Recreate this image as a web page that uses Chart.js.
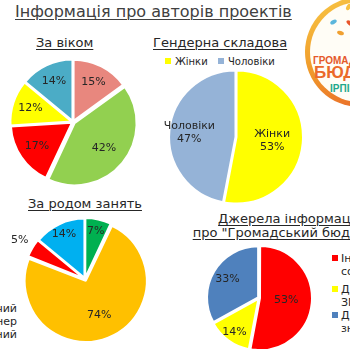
<!DOCTYPE html>
<html>
<head>
<meta charset="utf-8">
<script src="https://cdn.jsdelivr.net/npm/chart.js@4.4.0/dist/chart.umd.min.js"></script>
<style>
html, body { margin: 0; padding: 0; background: #fff; }
body { width: 350px; height: 350px; overflow: hidden; position: relative;
       font-family: "DejaVu Sans", Verdana, sans-serif; color: #262626; }
canvas { position: absolute; }
.t { position: absolute; white-space: nowrap; text-decoration: underline; text-underline-offset: 2px; text-decoration-thickness: 1px; }
.main { left: 15px; top: 2px; font-size: 16px; color: #404040; }
.sub { font-size: 13px; line-height: 14px; }
.lg { position: absolute; white-space: nowrap; font-size: 10px; line-height: 12px; }
.lg i { display: inline-block; width: 6px; height: 6px; margin-right: 4px; vertical-align: 1px; }
.side { position: absolute; font-size: 11px; line-height: 13px; white-space: nowrap; }
#logo .ring { position: absolute; left: 305px; top: -3px; width: 100px; height: 100px; border-radius: 50%;
  border: 5px solid transparent;
  background: linear-gradient(#fffdf6, #fffdf6) padding-box, linear-gradient(160deg, #f8c845, #f09a2a 50%, #e8602a) border-box; }
#logo .w { position: absolute; white-space: nowrap; font-family: "Liberation Sans", Arial, sans-serif; font-weight: bold; }
#logo .leaf { position: absolute; width: 7px; height: 4px; border-radius: 50%; }
</style>
</head>
<body>
<div class="t main">Інформація про авторів проектів</div>

<div class="t sub" style="left:36px; top:36px;">За віком</div>
<div class="t sub" style="left:153px; top:36px;">Гендерна складова</div>
<div class="t sub" style="left:28px; top:197px;">За родом занять</div>
<div class="sub" style="position:absolute; left:188px; top:212px; width:200px; text-align:center; text-decoration:underline; text-underline-offset:2px;">Джерела інформації<br>про "Громадський бюджет"</div>

<div id="genderLegend"></div>
<div id="jobLegend"></div>
<div id="sourceLegend"></div>

<div id="logo">
  <div class="ring"></div>
  <div class="leaf" style="left:330px; top:20px; background:#5bb6dc; transform:rotate(-30deg);"></div>
  <div class="leaf" style="left:337px; top:31px; background:#f0a030; transform:rotate(20deg);"></div>
  <div class="leaf" style="left:345px; top:5px; background:#f7c040; transform:rotate(-60deg);"></div>
  <div class="leaf" style="left:346px; top:21px; background:#e8552a; transform:rotate(40deg);"></div>
  <div class="w" style="left:313px; top:55px; font-size:10px; color:#e5592b;">ГРОМАДСЬКИЙ</div>
  <div class="w" style="left:314px; top:63px; font-size:17px; color:#eb6a2a;">БЮДЖЕТ</div>
  <div class="w" style="left:330px; top:83px; font-size:10px; color:#22a88a;">ІРПІНЬ</div>
</div>

<canvas id="ageChart"></canvas>
<canvas id="genderChart"></canvas>
<canvas id="jobChart"></canvas>
<canvas id="sourceChart"></canvas>

<script>
// дані
const ageLabels = ['до 30 років', '31-45 років', '46-60 років', 'понад 60', 'не вказано'];
const ageValues = [15, 42, 17, 12, 14];
const ageColors = ['#e8877e', '#92d050', '#ff0000', '#ffff00', '#4bacc6'];

const genderLabels = ['Жінки', 'Чоловіки'];
const genderValues = [53, 47];
const genderColors = ['#ffff00', '#95b3d7'];

const jobLabels = ['Студент', 'Працюючий', 'Пенсіонер', 'Безробітний'];
const jobValues = [7, 74, 5, 14];
const jobColors = ['#00b050', '#ffc000', '#ff0000', '#00b0f0'];

const sourceLabels = [['Інтернет,', 'соцмережі'], ['Друковані', 'ЗМІ'], ['Друзі,', 'знайомі']];
const sourceValues = [53, 14, 33];
const sourceColors = ['#ff0000', '#ffff00', '#4f81bd'];

// підписи всередині секторів
function sliceLabels(radii, textFor) {
    return {
        id: 'sliceLabels',
        afterDatasetsDraw(chart) {
            const ctx = chart.ctx;
            const meta = chart.getDatasetMeta(0);
            ctx.save();
            ctx.font = '11px "DejaVu Sans", Verdana, sans-serif';
            ctx.fillStyle = '#262626';
            ctx.textAlign = 'center';
            ctx.textBaseline = 'middle';
            meta.data.forEach((arc, i) => {
                const mid = (arc.startAngle + arc.endAngle) / 2;
                const off = arc.options.offset || 0;
                const r = arc.outerRadius * radii[i] + off;
                const x = arc.x + Math.cos(mid) * r;
                const y = arc.y + Math.sin(mid) * r;
                const lines = textFor(i);
                lines.forEach((s, k) => ctx.fillText(s, x, y + (k - (lines.length - 1) / 2) * 13));
            });
            ctx.restore();
        }
    };
}

function makePie(id, cx, cy, r, cfg) {
    const maxOff = Math.max(...cfg.offset);
    const pad = maxOff + 3;
    const size = 2 * r + maxOff + 2 * pad;
    const cv = document.getElementById(id);
    cv.width = size;
    cv.height = size;
    cv.style.left = (cx - size / 2) + 'px';
    cv.style.top = (cy - size / 2) + 'px';
    return new Chart(cv, {
        type: 'pie',
        data: {
            labels: cfg.labels,
            datasets: [{
                data: cfg.values,
                backgroundColor: cfg.colors,
                borderColor: '#ffffff',
                borderWidth: 2,
                offset: cfg.offset
            }]
        },
        options: {
            responsive: false,
            animation: false,
            layout: { padding: pad },
            plugins: { legend: { display: false }, tooltip: { enabled: false } }
        },
        plugins: [sliceLabels(cfg.radii, cfg.text)]
    });
}

const pct = v => v + '%';

makePie('ageChart', 73, 122, 62, {
    labels: ageLabels, values: ageValues, colors: ageColors,
    offset: [5, 8, 5, 5, 5],
    radii: [0.66, 0.53, 0.63, 0.65, 0.65],
    text: i => [pct(ageValues[i])]
});

makePie('genderChart', 236, 137, 67, {
    labels: genderLabels, values: genderValues, colors: genderColors,
    offset: [2, 2],
    radii: [0.52, 0.68],
    text: i => [genderLabels[i], pct(genderValues[i])]
});

makePie('jobChart', 85, 279, 60, {
    labels: jobLabels, values: jobValues, colors: jobColors,
    offset: [5, 8, 5, 5],
    radii: [0.75, 0.52, 1.2, 0.75],
    text: i => [pct(jobValues[i])]
});

makePie('sourceChart', 259, 298, 52, {
    labels: sourceLabels, values: sourceValues, colors: sourceColors,
    offset: [4, 4, 4],
    radii: [0.46, 0.74, 0.64],
    text: i => [pct(sourceValues[i])]
});

// легенди
const gl = document.getElementById('genderLegend');
const gx = [165, 218];
genderLabels.forEach((name, i) => {
    const d = document.createElement('div');
    d.className = 'lg';
    d.style.left = gx[i] + 'px';
    d.style.top = '56px';
    d.innerHTML = '<i style="background:' + genderColors[i] + '"></i>' + name;
    gl.appendChild(d);
});

const jl = document.getElementById('jobLegend');
['Працюючий', 'Пенсіонер', 'Безробітний'].forEach((name, k) => {
    const d = document.createElement('div');
    d.className = 'side';
    d.style.left = '-84px';
    d.style.width = '101px';
    d.style.textAlign = 'right';
    d.style.top = (302 + k * 13) + 'px';
    d.textContent = name;
    jl.appendChild(d);
});

const sl = document.getElementById('sourceLegend');
const sy = [252, 283, 309];
sourceLabels.forEach((lines, i) => {
    const d = document.createElement('div');
    d.className = 'side';
    d.style.left = '332px';
    d.style.top = sy[i] + 'px';
    d.innerHTML = '<i style="display:inline-block;width:6px;height:6px;margin-right:3px;vertical-align:1px;background:' +
        sourceColors[i] + '"></i>' + lines[0] + '<br><span style="padding-left:9px">' + lines[1] + '</span>';
    sl.appendChild(d);
});
</script>
</body>
</html>
